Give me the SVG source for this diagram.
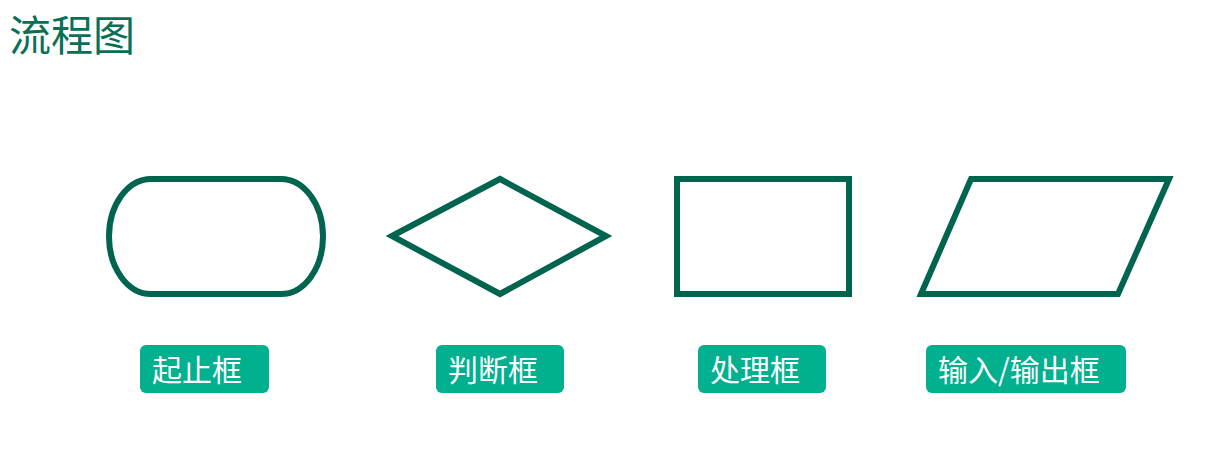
<svg xmlns="http://www.w3.org/2000/svg" width="1229" height="470" viewBox="0 0 1229 470">
<style>
.shape{fill:#fff;stroke:#00644f;stroke-width:6}
.tag{fill:#00b08e}
.lbl{fill:#fff;font-family:"Noto Sans CJK SC",sans-serif;font-size:30px}
.title{fill:#0a7055;font-family:"Noto Sans CJK SC",sans-serif;font-size:42px}
</style>
<rect width="1229" height="470" fill="#fff"/>
<text class="title" x="9" y="51">流程图</text>
<g id="terminator">
<rect class="shape" x="109" y="179" width="214" height="115" rx="42" ry="57.5"/>
<rect class="tag" x="140" y="345" width="129" height="48" rx="6"/>
<text class="lbl" x="152" y="381">起止框</text>
</g>
<g id="decision">
<polygon class="shape" points="392,236 500,179 606,236 500,294"/>
<rect class="tag" x="436" y="345" width="128" height="48" rx="6"/>
<text class="lbl" x="448" y="381">判断框</text>
</g>
<g id="process">
<rect class="shape" x="677" y="179" width="172" height="115"/>
<rect class="tag" x="698" y="345" width="128" height="48" rx="6"/>
<text class="lbl" x="710" y="381">处理框</text>
</g>
<g id="io">
<polygon class="shape" points="971,179 1169,179 1118,294 921,294"/>
<rect class="tag" x="926" y="345" width="200" height="48" rx="6"/>
<text class="lbl" x="938" y="381">输入/输出框</text>
</g>
<g id="connectors"></g>
</svg>
